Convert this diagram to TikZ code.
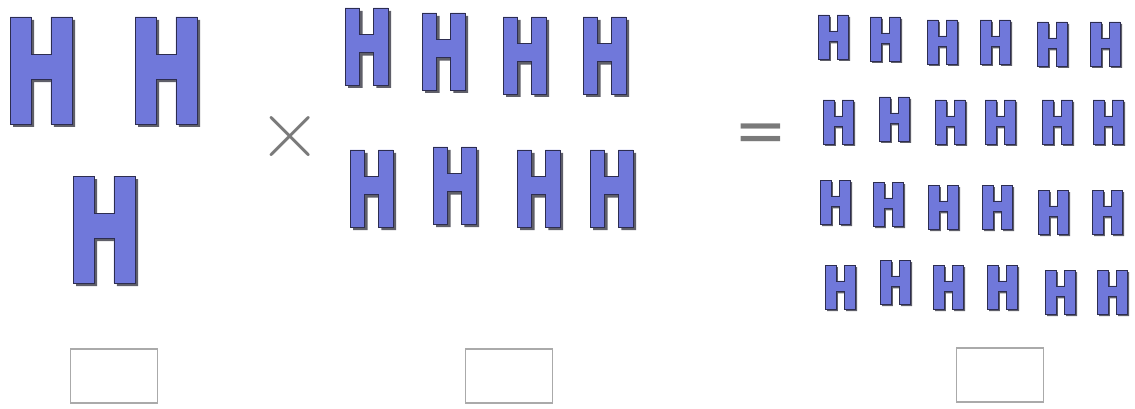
\documentclass[tikz,border=0pt]{standalone}
\usepackage{fontspec}
\newfontfamily\opfont{DejaVu Sans}
\definecolor{hblue}{RGB}{112,120,218}
\definecolor{hedge}{RGB}{45,45,80}
\definecolor{hshade}{RGB}{95,95,105}
\definecolor{opgray}{RGB}{122,122,122}
\definecolor{boxgray}{RGB}{170,170,170}
\tikzset{
  hfront/.style={fill=hblue,draw=hedge,line width=0.6pt,line join=miter},
  hback/.style={fill=hshade},
  opsign/.style={text=opgray,inner sep=0pt},
  answerbox/.style={draw=boxgray,line width=1.6pt,minimum width=87pt,minimum height=54pt,inner sep=0pt,fill=white}
}
\newcommand\Hshape[4]{%
  \path[#1] (0,0) -- (#2,0) -- (#2,#3) -- ({1-#2},#3) -- ({1-#2},0) -- (1,0) -- (1,1) -- ({1-#2},1) -- ({1-#2},#4) -- (#2,#4) -- (#2,1) -- (0,1) -- cycle;}
\newcommand\drawH[8]{% x y w h stem a b shadow
  \begin{scope}[shift={({#1+#8},{#2+#8})},xscale=#3,yscale=#4]\Hshape{hback}{#5}{#6}{#7}\end{scope}
  \begin{scope}[shift={(#1,#2)},xscale=#3,yscale=#4]\Hshape{hfront}{#5}{#6}{#7}\end{scope}}
\newcommand\bigH[2]{\drawH{#1}{#2}{62}{107}{0.34}{0.35}{0.58}{3}}
\newcommand\midH[2]{\drawH{#1}{#2}{43}{77}{0.34}{0.34}{0.58}{3}}
\newcommand\smallH[2]{\drawH{#1}{#2}{30}{44}{0.36}{0.36}{0.6}{2}}
\begin{document}
\begin{tikzpicture}[x=1pt,y=-1pt]
\useasboundingbox (0,0) rectangle (1135,409);
% group 1
\bigH{10}{17}
\bigH{135}{17}
\bigH{73}{176}
% times
\node[opsign,font=\fontsize{88}{88}\selectfont] (times) at (290,137) {×};
% group 2
\midH{345}{8}
\midH{422}{13}
\midH{503}{17}
\midH{583}{17}
\midH{350}{150}
\midH{433}{147}
\midH{517}{150}
\midH{590}{150}
% equals
\node[opsign,font=\opfont\fontsize{63}{63}\selectfont] (equals) at (761,138) {=};
% group 3
\smallH{818}{15}\smallH{870}{17}\smallH{927}{20}\smallH{980}{20}\smallH{1037}{22}\smallH{1090}{22}
\smallH{823}{100}\smallH{879}{97}\smallH{935}{100}\smallH{985}{100}\smallH{1042}{100}\smallH{1093}{100}
\smallH{820}{180}\smallH{873}{182}\smallH{928}{185}\smallH{982}{185}\smallH{1038}{190}\smallH{1092}{190}
\smallH{825}{265}\smallH{880}{260}\smallH{933}{265}\smallH{987}{265}\smallH{1045}{270}\smallH{1097}{270}
% answer boxes
\node[answerbox] (box1) at (114,376) {};
\node[answerbox] (box2) at (509,376) {};
\node[answerbox] (box3) at (1000,375) {};
\end{tikzpicture}
\end{document}
